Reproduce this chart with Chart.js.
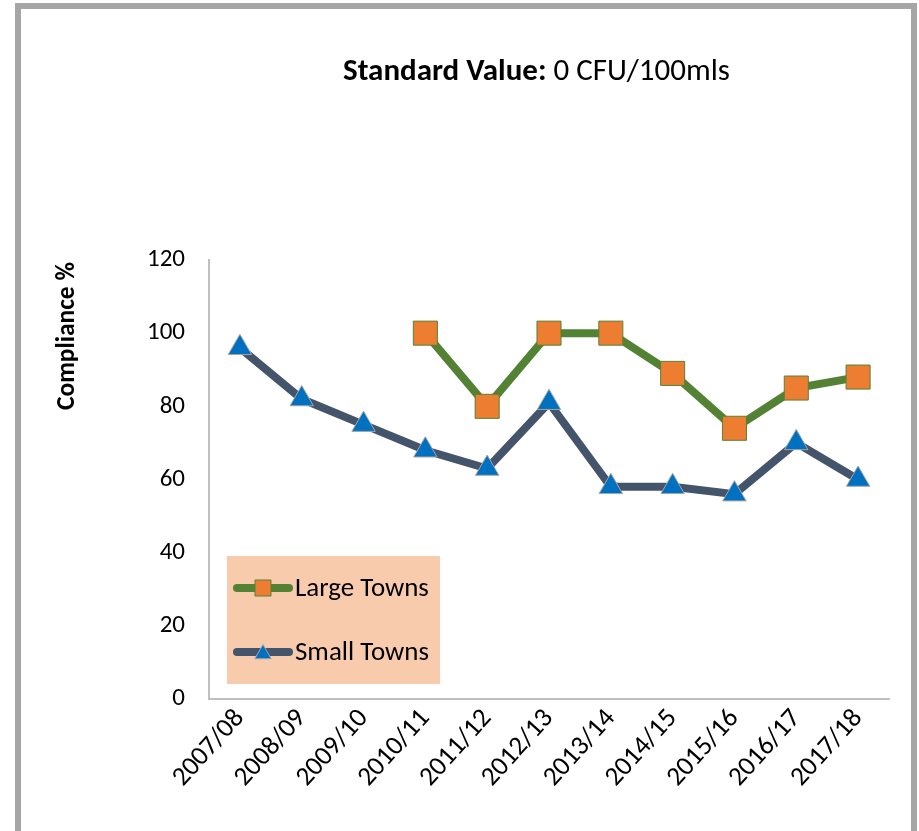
<!DOCTYPE html>
<html>
<head>
<meta charset="utf-8">
<style>
  html, body { margin: 0; padding: 0; background: #ffffff; }
  #wrap { position: relative; width: 919px; height: 831px; }
  canvas { display: block; }
</style>
<script src="https://cdn.jsdelivr.net/npm/chart.js@4.4.1/dist/chart.umd.min.js"></script>
</head>
<body>
<div id="wrap"><canvas id="c" width="919" height="831"></canvas></div>
<script>
// ---- data ----
const categories = ['2007/08','2008/09','2009/10','2010/11','2011/12','2012/13','2013/14','2014/15','2015/16','2016/17','2017/18'];
const largeTowns = [null, null, null, 100, 80, 100, 100, 89, 74, 85, 88];
const smallTowns = [96, 82, 75, 68, 63, 81, 58, 58, 56, 70, 60];
const yTicks = [0, 20, 40, 60, 80, 100, 120];
const seriesNames = ['Large Towns', 'Small Towns'];
const titleBold = 'Standard Value:';
const titleRest = ' 0 CFU/100mls';
const yTitle = 'Compliance %';

const FONT = 'Carlito, Calibri, Lato, sans-serif';
const GREEN = '#548235';
const ORANGE = '#ed7d31';
const SLATE = '#44546a';
const BLUE = '#0070c0';

function fitFont(ctx, text, weight, target, base) {
  ctx.font = weight + ' ' + base + 'px ' + FONT;
  const w = ctx.measureText(text).width;
  return base * target / w;
}

const decor = {
  id: 'decor',
  beforeDraw(chart) {
    const ctx = chart.ctx;
    ctx.save();
    ctx.fillStyle = '#ffffff';
    ctx.fillRect(0, 0, chart.width, chart.height);
    // outer frame
    ctx.strokeStyle = '#a6a6a6';
    ctx.lineWidth = 6;
    ctx.beginPath();
    ctx.moveTo(18, 840);
    ctx.lineTo(18, 6);
    ctx.lineTo(914, 6);
    ctx.lineTo(914, 840);
    ctx.stroke();
    // legend box
    ctx.fillStyle = '#f8cbad';
    ctx.fillRect(227, 556, 213, 128);
    ctx.restore();
  },
  afterDraw(chart) {
    const ctx = chart.ctx;
    ctx.save();
    // title
    let fs = 24;
    ctx.font = 'bold ' + fs + 'px ' + FONT;
    const wb = ctx.measureText(titleBold).width;
    ctx.font = fs + 'px ' + FONT;
    const wr = ctx.measureText(titleRest).width;
    fs = fs * 387 / (wb + wr);
    let x = 343;
    ctx.textBaseline = 'alphabetic';
    ctx.fillStyle = '#000000';
    ctx.textAlign = 'left';
    ctx.font = 'bold ' + fs + 'px ' + FONT;
    ctx.fillText(titleBold, x, 80);
    x += ctx.measureText(titleBold).width;
    ctx.font = fs + 'px ' + FONT;
    ctx.fillText(titleRest, x, 80);

    // y-axis title
    const yfs = fitFont(ctx, yTitle, 'bold', 148, 20);
    ctx.translate(68, 336);
    ctx.rotate(-Math.PI / 2);
    ctx.font = 'bold ' + yfs + 'px ' + FONT;
    ctx.textAlign = 'center';
    ctx.textBaseline = 'middle';
    ctx.fillText(yTitle, 0, 0);
    ctx.setTransform(1, 0, 0, 1, 0, 0);

    // legend entries
    const items = [
      { y: 588, line: GREEN, style: 'rect', fill: ORANGE, border: GREEN, r: 11.3 },
      { y: 652, line: SLATE, style: 'triangle', fill: BLUE, border: '#a5a5a5', r: 9.5 }
    ];
    const lfs = fitFont(ctx, seriesNames[1], 'normal', 134, 22);
    items.forEach((it, i) => {
      ctx.strokeStyle = it.line;
      ctx.lineWidth = 8;
      ctx.lineCap = 'round';
      ctx.beginPath();
      ctx.moveTo(237, it.y);
      ctx.lineTo(289, it.y);
      ctx.stroke();
      ctx.lineCap = 'butt';
      ctx.fillStyle = it.fill;
      ctx.strokeStyle = it.border;
      ctx.lineWidth = 1;
      Chart.helpers.drawPoint(ctx, { pointStyle: it.style, radius: it.r, rotation: 0, borderWidth: 1 }, 263, it.style === 'triangle' ? it.y + 2 : it.y);
      ctx.fillStyle = '#000000';
      ctx.font = lfs + 'px ' + FONT;
      ctx.textAlign = 'left';
      ctx.textBaseline = 'middle';
      ctx.fillText(seriesNames[i], 295, it.y + 1);
    });
    ctx.restore();
  }
};

new Chart(document.getElementById('c'), {
  type: 'line',
  data: {
    labels: categories,
    datasets: [
      {
        label: seriesNames[0],
        data: largeTowns,
        borderColor: GREEN,
        borderWidth: 8,
        pointStyle: 'rect',
        pointRadius: 17,
        pointBackgroundColor: ORANGE,
        pointBorderColor: GREEN,
        pointBorderWidth: 1,
        spanGaps: false,
        order: 1
      },
      {
        label: seriesNames[1],
        data: smallTowns,
        borderColor: SLATE,
        borderWidth: 8,
        pointStyle: 'triangle',
        pointRadius: 13.5,
        pointBackgroundColor: BLUE,
        pointBorderColor: '#a5a5a5',
        pointBorderWidth: 1,
        order: 2
      }
    ]
  },
  options: {
    responsive: false,
    animation: false,
    events: [],
    layout: { padding: { left: 0, top: 260, right: 30, bottom: 0 } },
    plugins: {
      legend: { display: false },
      title: { display: false },
      tooltip: { enabled: false }
    },
    scales: {
      x: {
        offset: true,
        grid: { display: false, drawTicks: false },
        border: { display: true, color: '#bfbfbf', width: 2 },
        ticks: {
          color: '#000000',
          font: { family: FONT, size: 27 },
          maxRotation: 48,
          minRotation: 48,
          padding: 4,
          autoSkip: false
        },
        afterFit(s) { s.height = 132; }
      },
      y: {
        min: 0,
        max: 120,
        afterBuildTicks(s) { s.ticks = yTicks.map(v => ({ value: v })); },
        grid: { display: false, drawTicks: false },
        border: { display: true, color: '#bfbfbf', width: 2 },
        ticks: {
          color: '#000000',
          font: { family: FONT, size: 25 },
          padding: 24
        },
        afterFit(s) { s.width = 209; }
      }
    }
  },
  plugins: [decor]
});
</script>
</body>
</html>
